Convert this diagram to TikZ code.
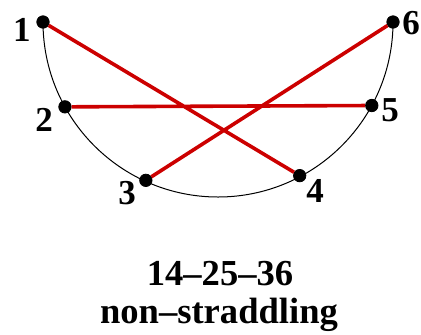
\documentclass[tikz,border=0pt]{standalone}
\usepackage{fontspec}
\setmainfont{Liberation Serif}
\usepackage{tikz}

\begin{document}
\begin{tikzpicture}[
        x=0.5pt, y=0.5pt,
        dot/.style={draw, fill=black, circle, inner sep=0pt, minimum size=6.2pt},
        chord/.style={draw=red!80!black, line width=1.8pt},
        num/.style={font=\fontsize{17.5}{19}\selectfont\bfseries, inner sep=0pt},
        caption/.style={font=\fontsize{18.3}{20}\selectfont\bfseries, inner sep=0pt, anchor=base}
    ]
        \useasboundingbox (0,0) rectangle (421,334);
        \coordinate (c) at (218,312);
\node[dot] (p1) at ([shift={(180:175)}]c) {};
        \node[dot] (p2) at ([shift={(209:175)}]c) {};
        \node[dot] (p3) at ([shift={(245.5:174)}]c) {};
        \node[dot] (p4) at ([shift={(298:174)}]c) {};
\node[dot] (p5) at ([shift={(331.5:175)}]c) {};
        \node[dot] (p6) at ([shift={(0:175)}]c) {};
        \draw[line width=0.5pt] (p1.center) arc[start angle=180, end angle=360, radius=175];
\path[chord]
        (p1) -- (p4)
        (p2) -- (p5)
        (p3) -- (p6);
        \node[num] (n1) at (22,304) {1};
        \node[num] (n2) at (44,214) {2};
        \node[num] (n3) at (127,141) {3};
        \node[num] (n4) at (315,143) {4};
        \node[num] (n5) at (390,224) {5};
        \node[num] (n6) at (411,311) {6};
\node[caption] (pairs) at (220,49) {14--25--36};
        \node[caption] (kind) at (219,11) {non--straddling};
\end{tikzpicture}
\end{document}
